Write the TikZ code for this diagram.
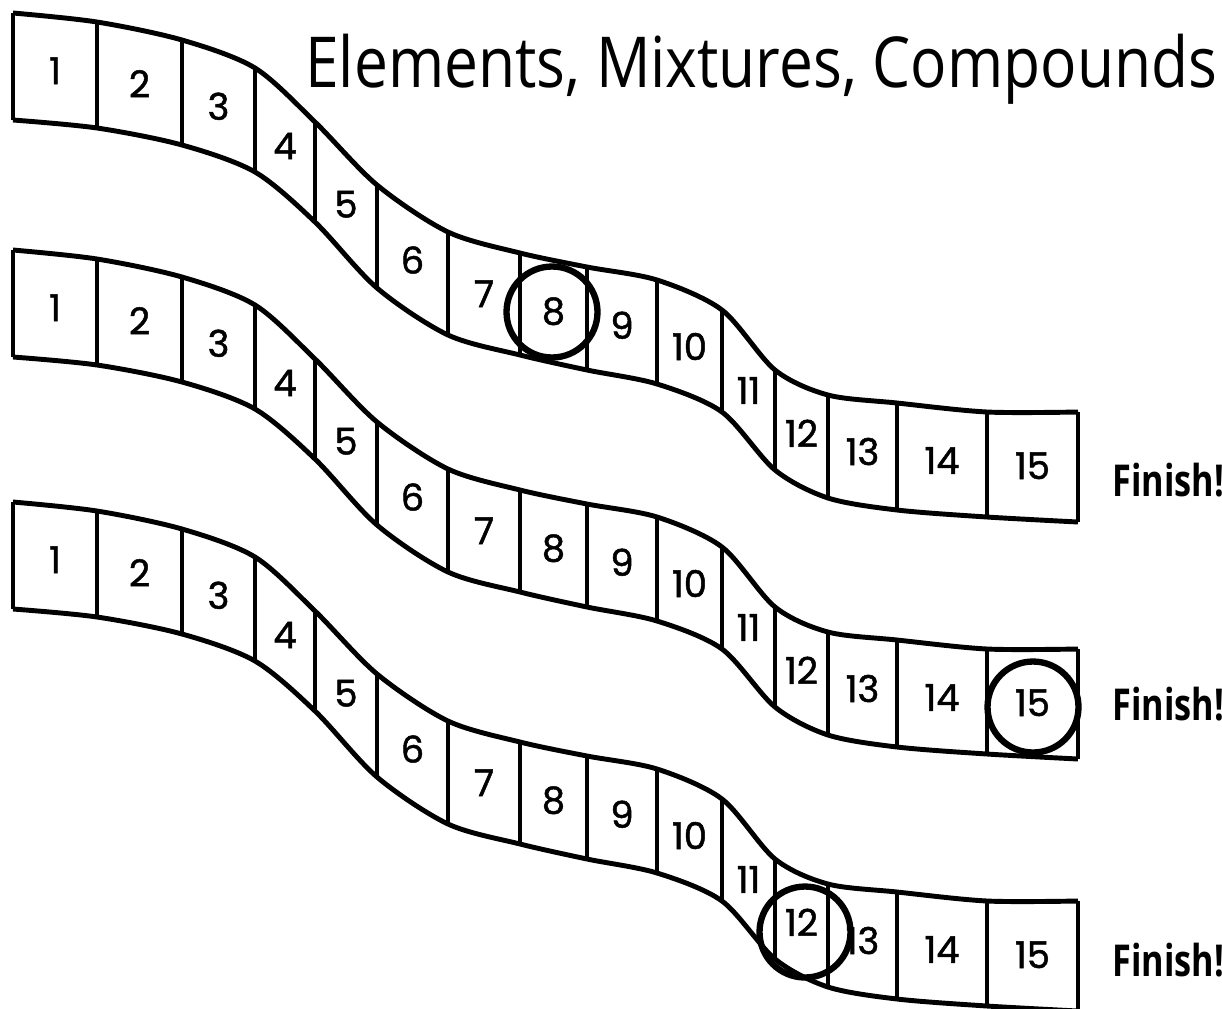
\documentclass[tikz,border=0pt]{standalone}
\usepackage{fontspec}
\setmainfont{Poppins}
\newfontfamily\numfont{Poppins}[FakeBold=1.3]
\newfontfamily\titlefont{Open Sans}[FakeStretch=0.86]
\newfontfamily\finishfont{Open Sans}[FakeStretch=0.78]
\usetikzlibrary{calc}

\tikzset{
  edge/.style={line width=2.8pt, line join=round},
  num/.style={font=\numfont\fontsize{21}{21}\selectfont, inner sep=0pt},
  ring/.style={circle, draw, line width=3.6pt, minimum size=1.82cm, inner sep=0pt},
  finish/.style={font=\finishfont\bfseries\fontsize{25}{25}\selectfont, inner sep=0pt, anchor=west},
}

\begin{document}
\begin{tikzpicture}[x=0.02cm, y=-0.02cm]
\useasboundingbox (0,0) rectangle (1222,1008);
\node[anchor=base west, font=\titlefont\fontsize{40}{40}\selectfont, inner sep=0pt] (title) at (305,87) {Elements, Mixtures, Compounds};
% three tracks, same shape, shifted down
\foreach \k/\dy in {1/0,2/237,3/489}{
  \begin{scope}[shift={(0,\dy)}]
    \draw[edge] plot[smooth] coordinates {(13,13) (97,22) (182,40) (255,68) (315,122) (377,185) (448,232) (520,253) (587,267) (657,280) (722,310) (775,370) (828,395) (897,403) (987,412) (1078,412)};
    \draw[edge] plot[smooth] coordinates {(13,120) (97,128) (182,145) (255,172) (315,222) (377,288) (448,335) (520,355) (587,370) (657,384) (722,412) (775,470) (828,498) (897,510) (987,517) (1078,522)};
    \foreach \x/\t/\b [count=\i] in {13/13/120, 97/22/128, 182/40/145, 255/68/172, 315/122/222, 377/185/288, 448/232/335, 520/253/355, 587/267/370, 657/280/384, 722/310/412, 775/370/470, 828/395/498, 897/403/510, 987/412/517, 1078/412/522}{
      \coordinate (t\k-\i) at (\x,\t);
      \coordinate (b\k-\i) at (\x,\b);
      \draw[edge] (t\k-\i) -- (b\k-\i);
    }
  \end{scope}
  \foreach \i [count=\j from 2] in {1,...,15}
    \node[num] (c\k-\i) at (barycentric cs:t\k-\i=1,t\k-\j=1,b\k-\i=1,b\k-\j=1) {\i};
}
% circled squares
\node[ring] (ring1) at (552,312) {};
\node[ring] (ring2) at (1033,707) {};
\node[ring] (ring3) at (805,932) {};
\foreach \k/\y in {1/480,2/704,3/960}
  \node[finish] (finish\k) at (1112,\y) {Finish!};
\end{tikzpicture}
\end{document}
